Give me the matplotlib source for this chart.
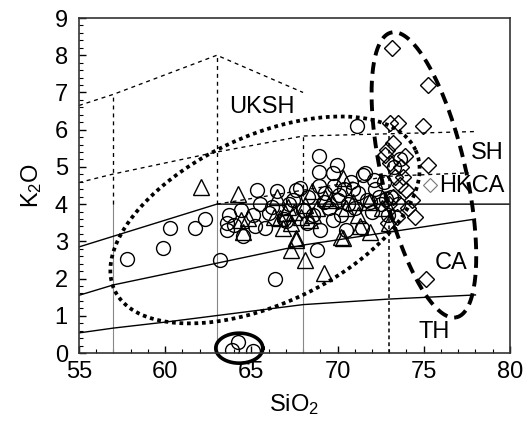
import numpy as np
import matplotlib
matplotlib.use("Agg")
from matplotlib import pyplot as plt

plt.rcParams['font.family'] = ['Liberation Sans', 'DejaVu Sans']
plt.rcParams['mathtext.fontset'] = 'custom'
plt.rcParams['mathtext.rm'] = 'Liberation Sans'
plt.rcParams['mathtext.it'] = 'Liberation Sans'

# sample data
circle_sio2 = [57.8, 59.9, 60.3, 61.75, 62.3, 63.2, 63.6, 63.6, 66.4, 68.8,
               63.9, 64.25, 65.1, 64.4, 64.5, 65.1, 65.3, 65.8, 66.5, 66.2,
               67.6, 65.2, 63.7, 64.0, 66.9, 67.2, 67.8, 68.0, 68.3, 68.6,
               68.9, 68.9, 68.9, 69.95, 69.75, 69.3, 69.5, 69.8, 70.0, 70.2,
               70.4, 70.6, 70.8, 71.0, 71.2, 71.5, 71.4, 71.7, 72.0, 72.2,
               72.5, 72.7, 72.9, 73.1, 73.3, 73.5, 69.75, 70.5, 71.1, 73.6,
               71.6, 72.1, 67.0, 66.0, 65.5, 67.4, 68.2, 69.0, 70.9, 72.4,
               71.9, 72.8, 70.1, 69.2]
circle_k2o = [2.52, 2.83, 3.35, 3.35, 3.59, 2.5, 3.5, 3.3, 1.98, 2.77,
              0.08, 0.3, 0.06, 3.84, 3.15, 3.71, 4.38, 3.35, 4.34, 3.93,
              4.38, 3.4, 3.7, 3.45, 3.6, 4.0, 4.43, 3.85, 4.2, 3.7,
              4.5, 5.28, 4.87, 5.05, 4.83, 4.3, 3.9, 4.5, 4.1, 3.7,
              4.4, 4.0, 4.6, 3.9, 4.3, 4.78, 3.35, 4.1, 3.8, 4.4,
              4.0, 4.6, 3.7, 4.2, 5.0, 4.0, 3.58, 3.31, 6.1, 5.2,
              4.83, 4.65, 3.55, 3.75, 4.0, 4.1, 3.5, 3.3, 4.4, 4.2,
              4.05, 4.15, 4.25, 4.05]

tri_sio2 = [62.1, 64.2, 64.4, 64.5, 66.3, 67.3, 67.6, 68.1, 66.85, 69.2,
            70.3, 71.3, 71.9, 70.2, 66.5, 66.95, 67.15, 67.5, 67.9, 67.6,
            64.8, 66.65, 68.1, 68.5, 70.3, 69.3, 69.6, 68.8, 70.9, 71.8,
            70.5, 68.4, 68.6, 72.6, 73.0, 67.3, 71.2]
tri_k2o = [4.45, 4.28, 3.58, 3.26, 3.66, 2.77, 3.08, 2.5, 3.35, 2.14,
           3.08, 3.4, 3.26, 3.13, 4.2, 3.75, 3.93, 3.8, 3.66, 3.04,
           3.62, 3.62, 3.98, 4.34, 4.7, 4.16, 4.11, 3.89, 4.07, 4.07,
           3.89, 3.58, 3.7, 3.9, 3.5, 3.5, 3.7]

dia_sio2 = [73.14, 75.26, 73.04, 73.52, 74.97, 73.23, 72.75, 75.26, 73.04, 73.33,
            73.62, 73.81, 74.0, 74.3, 74.49, 72.85, 73.9, 73.43, 75.11, 73.7,
            73.2, 73.0, 72.9, 74.1]
dia_k2o = [8.19, 7.2, 6.17, 6.19, 6.1, 5.64, 5.32, 5.05, 5.1, 4.74,
           4.52, 4.74, 4.38, 4.11, 3.66, 5.46, 5.28, 3.66, 2.0, 5.0,
           4.2, 4.0, 3.5, 3.9]

# field boundaries
hkca_ca_x = [55, 63, 80]
hkca_ca_y = [2.85, 4.0, 4.0]
ca_mid_x = [55, 57, 68, 78]
ca_mid_y = [1.55, 1.83, 2.9, 3.6]
ca_th_x = [55, 57, 60, 68, 73, 78]
ca_th_y = [0.54, 0.67, 0.83, 1.3, 1.45, 1.56]
uksh_x = [55, 57, 63, 68]
uksh_y = [6.65, 6.95, 8.0, 7.0]
sh_x = [55, 57, 63, 68, 78]
sh_y = [4.58, 4.81, 5.4, 5.83, 5.95]
hk_x = [63, 73, 77.6]
hk_y = [4.0, 4.75, 4.84]


def ring(cx, cy, a, b, ang):
    # ellipse drawn in screen-like units (px), converted back to data units
    t = np.linspace(0, 2 * np.pi, 300)
    u = a * np.cos(t)
    v = b * np.sin(t)
    r = np.deg2rad(ang)
    px = u * np.cos(r) - v * np.sin(r)
    py = u * np.sin(r) + v * np.cos(r)
    return cx + px / 17.24, cy + py / 37.2


fig = plt.figure(figsize=(5.23, 4.21), dpi=100)
ax = fig.add_axes([0.151, 0.1615, 0.824, 0.7957])

lw_thin = 0.95
for xv in [57, 63, 68]:
    ax.plot([xv, xv], [0, 4], color='#888888', lw=0.8)
ax.plot([57, 57], [4, 6.95], color='k', lw=lw_thin, ls=(0, (3, 3)))
ax.plot([63, 63], [4, 8.0], color='k', lw=lw_thin, ls=(0, (3, 3)))
ax.plot([68, 68], [4, 5.83], color='k', lw=lw_thin, ls=(0, (3, 3)))
ax.plot([73, 73], [0, 6.0], color='k', lw=1.1, ls=(0, (2.5, 2)))

ax.plot(hkca_ca_x, hkca_ca_y, color='k', lw=1.0)
ax.plot(ca_mid_x, ca_mid_y, color='k', lw=1.0)
ax.plot(ca_th_x, ca_th_y, color='k', lw=1.0)
ax.plot(uksh_x, uksh_y, color='k', lw=lw_thin, ls=(0, (3, 3)))
ax.plot(sh_x, sh_y, color='k', lw=lw_thin, ls=(0, (3, 3)))
ax.plot(hk_x, hk_y, color='k', lw=lw_thin, ls=(0, (3, 3)))

ax.plot(circle_sio2, circle_k2o, 'o', ms=10, mfc='none', mec='k', mew=1.0)
ax.plot(tri_sio2, tri_k2o, '^', ms=11, mfc='none', mec='k', mew=1.0)
ax.plot(dia_sio2, dia_k2o, 'D', ms=8, mfc='none', mec='k', mew=1.0)
ax.plot([75.36], [4.52], 'D', ms=7, mfc='none', mec='#777777', mew=0.8)

ex, ey = ring(65.79, 3.575, 166, 84, 24.9)
ax.plot(ex, ey, color='k', lw=2.7, ls=(0, (1, 1)))
ex, ey = ring(75.01, 4.785, 146, 42, -77.1)
ax.plot(ex, ey, color='k', lw=2.8, ls=(0, (3, 1.8)))
ex, ey = ring(64.3, 0.13, 23.5, 15, 0)
ax.plot(ex, ey, color='k', lw=2.6, clip_on=False)

fs = 17
ax.text(65.6, 6.6, 'UKSH', fontsize=fs, ha='center', va='center')
ax.text(78.7, 5.38, 'SH', fontsize=fs, ha='center', va='center')
ax.text(75.9, 4.49, 'HKCA', fontsize=fs, ha='left', va='center')
ax.text(76.6, 2.42, 'CA', fontsize=fs, ha='center', va='center')
ax.text(75.6, 0.56, 'TH', fontsize=fs, ha='center', va='center')

ax.set_xlim(55, 80)
ax.set_ylim(0, 9)
ax.set_xticks(range(55, 81, 5))
ax.set_yticks(range(0, 10))
ax.set_xticks(np.arange(55, 80.1, 1), minor=True)
ax.set_yticks(np.arange(0, 9.01, 0.2), minor=True)
ax.tick_params(which='both', direction='in', top=False, right=False, labelsize=fs)
ax.tick_params(which='major', length=5, width=1.0)
ax.tick_params(which='minor', length=3, width=0.8)
ax.tick_params(axis='x', pad=6)
ax.tick_params(axis='y', pad=8)
for s in ax.spines.values():
    s.set_linewidth(1.2)
    s.set_color('#333333')

ax.set_xlabel('SiO$_2$', fontsize=fs, labelpad=6)
ax.set_ylabel('K$_2$O', fontsize=fs, labelpad=8)

fig.savefig('out.png', dpi=100)
plt.close(fig)
